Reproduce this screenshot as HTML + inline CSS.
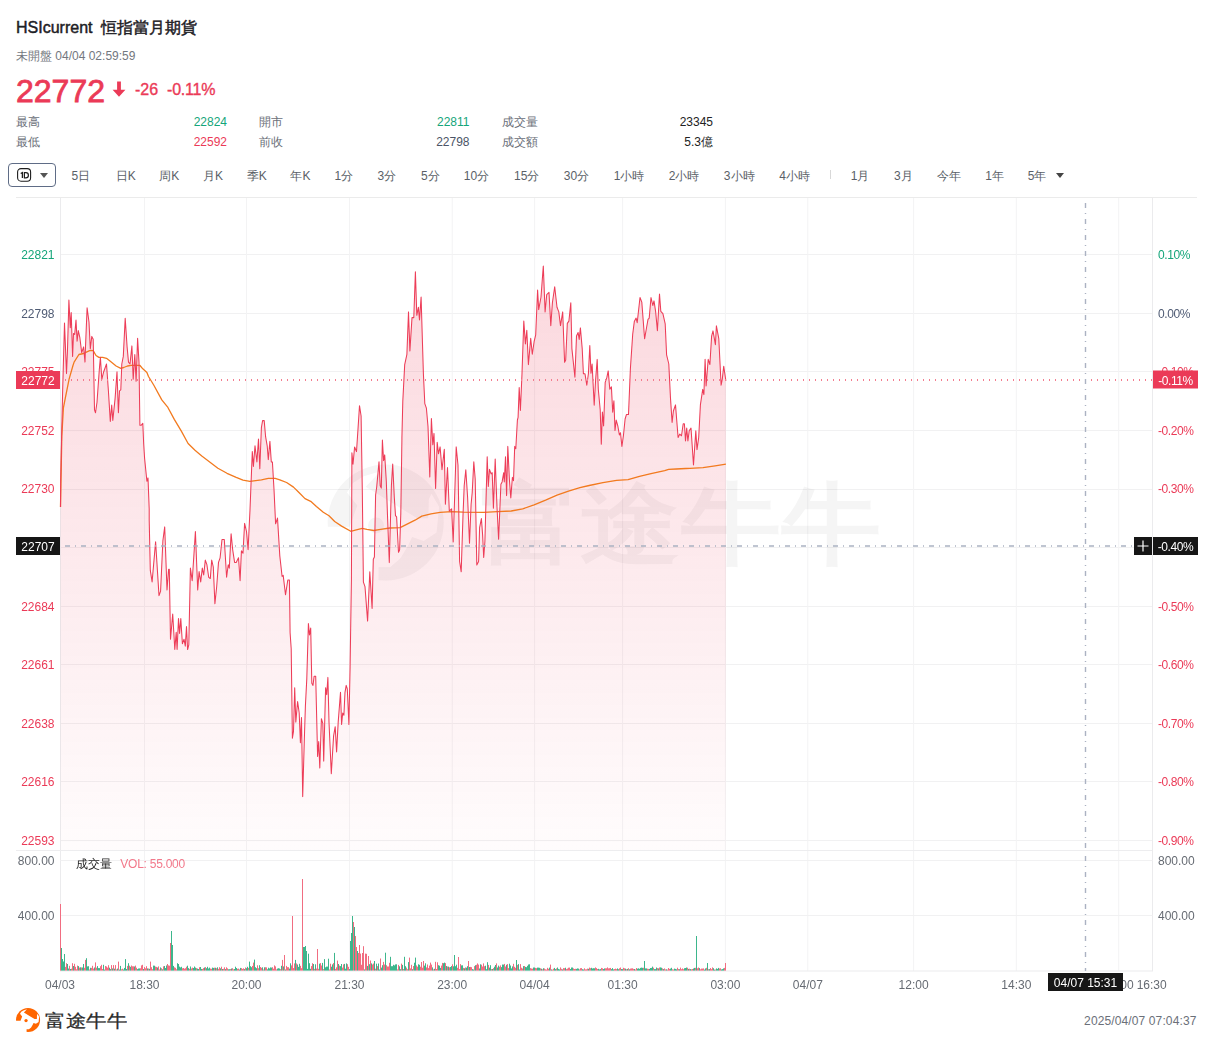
<!DOCTYPE html>
<html><head><meta charset="utf-8"><style>
html,body{margin:0;padding:0;background:#fff;}
body{width:1213px;height:1047px;position:relative;overflow:hidden;font-family:"Liberation Sans",sans-serif;}
.a{position:absolute;white-space:nowrap;line-height:1;}
</style></head><body>
<div class="a" style="left:16px;top:20px;font-size:16px;color:#1d2025;-webkit-text-stroke:0.45px #1d2025">HSIcurrent&nbsp;&nbsp;恒指當月期貨</div>
<div class="a" style="left:16px;top:50px;font-size:12px;color:#73777e">未開盤 04/04 02:59:59</div>
<div class="a" style="left:16px;top:75px;font-size:32px;color:#eb3a57;-webkit-text-stroke:0.8px #eb3a57">22772</div>
<svg class="a" style="left:112px;top:81px" width="15" height="17"><path d="M5.1,0.4 H8.9 V8.8 H13.4 L7,15.8 L0.6,8.8 H5.1 Z" fill="#eb3a57"/></svg>
<div class="a" style="left:135px;top:82px;font-size:16px;color:#eb3a57;-webkit-text-stroke:0.35px #eb3a57">-26</div>
<div class="a" style="left:167px;top:82px;font-size:16px;color:#eb3a57;letter-spacing:-0.2px;-webkit-text-stroke:0.35px #eb3a57">-0.11%</div>
<div class="a" style="left:16px;top:116px;font-size:12px;color:#6b7079">最高</div>
<div class="a" style="right:986px;top:116px;font-size:12px;color:#14a57a">22824</div>
<div class="a" style="left:259px;top:116px;font-size:12px;color:#6b7079">開市</div>
<div class="a" style="right:743.5px;top:116px;font-size:12px;color:#14a57a">22811</div>
<div class="a" style="left:501.5px;top:116px;font-size:12px;color:#6b7079">成交量</div>
<div class="a" style="right:500px;top:116px;font-size:12px;color:#222">23345</div>
<div class="a" style="left:16px;top:136px;font-size:12px;color:#6b7079">最低</div>
<div class="a" style="right:986px;top:136px;font-size:12px;color:#eb3a57">22592</div>
<div class="a" style="left:259px;top:136px;font-size:12px;color:#6b7079">前收</div>
<div class="a" style="right:743.5px;top:136px;font-size:12px;color:#4b5466">22798</div>
<div class="a" style="left:501.5px;top:136px;font-size:12px;color:#6b7079">成交額</div>
<div class="a" style="right:500px;top:136px;font-size:12px;color:#222">5.3億</div>
<div class="a" style="left:8px;top:163px;width:46px;height:22px;border:1px solid #5f6c86;border-radius:4px;"></div>
<svg class="a" style="left:16px;top:167px" width="17" height="17"><rect x="1.6" y="1.6" width="13" height="12.6" rx="3.4" fill="none" stroke="#1e1e1e" stroke-width="1.1"/><path d="M4.7,6.5 L6.4,5.6 V10.9" fill="none" stroke="#1e1e1e" stroke-width="1.3"/><path d="M8.4,5.6 H9.9 Q12.4,5.6 12.4,8.25 Q12.4,10.9 9.9,10.9 H8.4 Z" fill="none" stroke="#1e1e1e" stroke-width="1.2"/></svg>
<svg class="a" style="left:40px;top:173px" width="9" height="6"><path d="M0,0 H8 L4,5 Z" fill="#555"/></svg>
<div class="a" style="left:40.8px;width:80px;text-align:center;top:169.5px;font-size:12px;color:#5a5f67">5日</div>
<div class="a" style="left:85.7px;width:80px;text-align:center;top:169.5px;font-size:12px;color:#5a5f67">日K</div>
<div class="a" style="left:129.3px;width:80px;text-align:center;top:169.5px;font-size:12px;color:#5a5f67">周K</div>
<div class="a" style="left:173.1px;width:80px;text-align:center;top:169.5px;font-size:12px;color:#5a5f67">月K</div>
<div class="a" style="left:216.7px;width:80px;text-align:center;top:169.5px;font-size:12px;color:#5a5f67">季K</div>
<div class="a" style="left:260.5px;width:80px;text-align:center;top:169.5px;font-size:12px;color:#5a5f67">年K</div>
<div class="a" style="left:303.9px;width:80px;text-align:center;top:169.5px;font-size:12px;color:#5a5f67">1分</div>
<div class="a" style="left:346.9px;width:80px;text-align:center;top:169.5px;font-size:12px;color:#5a5f67">3分</div>
<div class="a" style="left:390.3px;width:80px;text-align:center;top:169.5px;font-size:12px;color:#5a5f67">5分</div>
<div class="a" style="left:436.5px;width:80px;text-align:center;top:169.5px;font-size:12px;color:#5a5f67">10分</div>
<div class="a" style="left:486.70000000000005px;width:80px;text-align:center;top:169.5px;font-size:12px;color:#5a5f67">15分</div>
<div class="a" style="left:536.5px;width:80px;text-align:center;top:169.5px;font-size:12px;color:#5a5f67">30分</div>
<div class="a" style="left:589px;width:80px;text-align:center;top:169.5px;font-size:12px;color:#5a5f67">1小時</div>
<div class="a" style="left:644.1px;width:80px;text-align:center;top:169.5px;font-size:12px;color:#5a5f67">2小時</div>
<div class="a" style="left:699.2px;width:80px;text-align:center;top:169.5px;font-size:12px;color:#5a5f67">3小時</div>
<div class="a" style="left:754.5px;width:80px;text-align:center;top:169.5px;font-size:12px;color:#5a5f67">4小時</div>
<div class="a" style="left:820px;width:80px;text-align:center;top:169.5px;font-size:12px;color:#5a5f67">1月</div>
<div class="a" style="left:863.4px;width:80px;text-align:center;top:169.5px;font-size:12px;color:#5a5f67">3月</div>
<div class="a" style="left:908.5px;width:80px;text-align:center;top:169.5px;font-size:12px;color:#5a5f67">今年</div>
<div class="a" style="left:954.6px;width:80px;text-align:center;top:169.5px;font-size:12px;color:#5a5f67">1年</div>
<div class="a" style="left:997px;width:80px;text-align:center;top:169.5px;font-size:12px;color:#5a5f67">5年</div>
<div class="a" style="left:830px;top:170px;width:1px;height:9px;background:#d8d8d8"></div>
<svg class="a" style="left:1056px;top:173px" width="9" height="6"><path d="M0,0 H8 L4,5 Z" fill="#444"/></svg>
<svg width="1213" height="1047" style="position:absolute;left:0;top:0">
<defs><linearGradient id="fg" x1="0" y1="265" x2="0" y2="850" gradientUnits="userSpaceOnUse"><stop offset="0" stop-color="#eb3a57" stop-opacity="0.2"/><stop offset="1" stop-color="#eb3a57" stop-opacity="0.015"/></linearGradient></defs>
<rect x="16" y="197" width="1181" height="1" fill="#ebebeb"/>
<rect x="60.5" y="254" width="1092" height="1" fill="#f1f1f2"/>
<rect x="60.5" y="313" width="1092" height="1" fill="#f1f1f2"/>
<rect x="60.5" y="371" width="1092" height="1" fill="#f1f1f2"/>
<rect x="60.5" y="430" width="1092" height="1" fill="#f1f1f2"/>
<rect x="60.5" y="489" width="1092" height="1" fill="#f1f1f2"/>
<rect x="60.5" y="547" width="1092" height="1" fill="#f1f1f2"/>
<rect x="60.5" y="606" width="1092" height="1" fill="#f1f1f2"/>
<rect x="60.5" y="664" width="1092" height="1" fill="#f1f1f2"/>
<rect x="60.5" y="723" width="1092" height="1" fill="#f1f1f2"/>
<rect x="60.5" y="781" width="1092" height="1" fill="#f1f1f2"/>
<rect x="60.5" y="840" width="1092" height="1" fill="#f1f1f2"/>
<rect x="144.0" y="198" width="1" height="773" fill="#f3f3f4"/>
<rect x="246.0" y="198" width="1" height="773" fill="#f3f3f4"/>
<rect x="349.0" y="198" width="1" height="773" fill="#f3f3f4"/>
<rect x="451.7" y="198" width="1" height="773" fill="#f3f3f4"/>
<rect x="534.1" y="198" width="1" height="773" fill="#f3f3f4"/>
<rect x="622.1" y="198" width="1" height="773" fill="#f3f3f4"/>
<rect x="724.9" y="198" width="1" height="773" fill="#f3f3f4"/>
<rect x="807.3" y="198" width="1" height="773" fill="#f3f3f4"/>
<rect x="913.1" y="198" width="1" height="773" fill="#f3f3f4"/>
<rect x="1015.8" y="198" width="1" height="773" fill="#f3f3f4"/>
<rect x="1118.2" y="198" width="1" height="773" fill="#f3f3f4"/>
<rect x="60" y="198" width="1" height="773" fill="#ebebed"/>
<rect x="1152" y="198" width="1" height="773" fill="#ebebed"/>
<rect x="16" y="850" width="1136" height="1" fill="#ededef"/>
<rect x="60.5" y="860" width="1092" height="1" fill="#f1f1f2"/>
<rect x="60.5" y="915" width="1092" height="1" fill="#f1f1f2"/>
<rect x="60" y="970.5" width="1093" height="1" fill="#ebebed"/>
<mask id="wm"><rect x="0" y="0" width="1213" height="1047" fill="#000"/><g transform="translate(318,455.2) scale(0.1289)"><circle cx="525" cy="522" r="450" fill="#fff"/><path d="M485,125 L350,165 L270,215 L225,290 L305,390 L265,500 L245,555 L0,555 L0,1047 L470,1047 L470,870 L560,870 L640,800 L700,700 L730,635 L820,665 L920,600 L940,400 L880,300 L860,340 L855,490 L770,490 L370,245 Z" fill="#000"/><circle cx="450" cy="545" r="62" fill="#fff"/></g></mask>
<g opacity="0.04"><rect x="300" y="440" width="160" height="160" fill="#000" mask="url(#wm)"/><text x="480" y="560" transform="translate(0,523.5) scale(1,0.89) translate(0,-524.5)" font-family="Liberation Sans, sans-serif" font-size="100" fill="#000" font-weight="bold">富途牛牛</text></g>
<path d="M60.5,507.0 L60.7,480.0 L61.7,432.8 L62.6,392.7 L64.5,323.0 L66.5,373.6 L67.4,352.6 L68.9,300.1 L70.3,327.8 L71.2,312.5 L72.6,356.4 L73.5,333.5 L74.7,334.4 L76.0,320.1 L77.1,341.1 L78.3,330.6 L79.8,337.3 L81.7,352.6 L83.6,346.9 L85.0,362.1 L85.5,346.9 L87.1,307.7 L89.0,322.0 L90.3,348.8 L91.8,336.4 L93.2,339.2 L94.5,409.9 L95.5,412.8 L97.0,402.3 L99.3,369.8 L100.4,357.4 L101.8,379.3 L103.7,371.7 L106.5,364.0 L108.4,390.8 L110.3,421.4 L111.7,405.1 L112.8,420.4 L115.1,398.4 L117.0,371.7 L118.4,412.8 L119.5,390.8 L120.8,389.8 L121.8,364.0 L123.3,356.4 L125.2,318.2 L127.1,346.9 L128.5,362.1 L130.0,364.0 L131.9,345.9 L133.2,379.3 L134.8,354.5 L136.1,381.2 L137.6,338.3 L139.0,362.1 L139.9,425.2 L141.3,425.2 L142.8,423.3 L143.7,444.3 L144.6,458.4 L146.9,481.3 L148.0,477.9 L149.2,508.8 L149.2,520.0 L150.3,570.4 L152.1,581.9 L155.6,541.8 L159.0,595.6 L160.6,591.1 L162.9,540.6 L164.7,526.9 L167.0,589.9 L168.6,569.3 L169.3,569.3 L170.5,639.2 L172.7,614.0 L174.8,649.5 L176.2,632.3 L177.1,649.5 L178.5,618.6 L179.6,633.5 L180.8,618.6 L182.4,643.8 L184.0,639.2 L185.3,646.1 L186.5,626.6 L187.6,649.5 L188.8,644.9 L190.4,568.1 L192.2,580.7 L193.8,556.7 L195.4,531.5 L197.7,589.9 L199.1,571.6 L200.7,581.9 L202.3,568.1 L203.7,575.0 L205.3,560.1 L206.9,564.7 L208.7,577.3 L210.3,578.5 L211.7,560.1 L213.3,567.0 L214.9,603.7 L216.7,586.5 L218.5,562.4 L220.1,557.8 L222.0,539.5 L224.3,539.5 L226.6,577.3 L228.2,564.7 L229.3,568.1 L231.1,533.8 L232.7,549.8 L234.6,562.4 L236.2,562.4 L238.5,557.8 L240.1,580.7 L241.4,550.9 L243.0,553.2 L244.6,523.4 L246.5,531.5 L248.1,549.8 L249.5,520.0 L250.0,510.0 L252.3,451.6 L253.4,466.5 L255.0,445.8 L256.9,461.9 L258.5,439.0 L259.8,468.8 L261.4,427.5 L262.6,420.6 L264.2,420.6 L265.6,436.7 L267.2,445.8 L268.3,459.6 L269.9,441.3 L271.3,461.9 L272.4,461.9 L274.0,489.4 L275.6,523.8 L277.5,518.1 L279.8,555.9 L282.1,576.5 L283.2,575.4 L285.5,594.8 L287.8,580.0 L289.4,580.0 L290.1,632.7 L291.2,648.8 L292.4,738.2 L293.5,731.3 L294.7,687.7 L295.8,722.1 L297.6,701.5 L299.2,713.0 L300.4,742.8 L301.5,717.5 L302.7,796.6 L304.3,740.5 L305.4,706.1 L306.8,678.6 L308.4,623.6 L309.5,635.0 L310.7,628.1 L311.8,683.2 L313.0,685.4 L314.1,676.3 L315.7,676.3 L317.6,756.5 L318.7,741.6 L319.8,768.0 L321.4,718.7 L322.8,723.3 L323.7,761.1 L325.6,687.7 L326.7,694.6 L327.9,677.4 L329.0,722.1 L331.3,773.7 L333.6,735.9 L335.2,726.7 L336.6,751.9 L338.2,722.1 L340.5,692.3 L341.6,724.4 L342.7,713.0 L343.9,715.2 L345.0,692.3 L346.2,685.4 L347.3,688.9 L348.9,724.4 L350.1,667.1 L351.4,580.0 L351.9,452.7 L353.0,464.2 L354.6,447.0 L356.5,451.6 L358.1,427.5 L359.5,405.7 L361.1,416.0 L362.3,490.4 L363.4,582.1 L365.0,586.7 L367.6,621.1 L369.8,571.8 L372.1,608.5 L373.3,559.2 L374.4,556.9 L375.6,495.0 L376.7,487.0 L379.0,461.8 L380.2,485.8 L381.3,488.1 L382.4,440.0 L383.6,460.6 L384.7,454.9 L386.3,481.3 L387.5,515.6 L389.3,562.6 L391.4,485.8 L392.7,464.1 L394.3,497.3 L395.5,515.6 L396.6,516.8 L398.5,552.3 L399.6,550.0 L400.8,513.4 L401.9,440.0 L401.9,438.0 L402.8,401.3 L404.7,364.6 L406.9,354.3 L408.5,311.9 L409.9,350.9 L412.0,317.6 L413.8,317.6 L415.4,271.8 L416.8,315.3 L418.4,307.3 L419.5,319.9 L421.1,297.0 L422.5,344.0 L423.4,373.8 L424.8,403.6 L426.4,408.2 L428.0,426.5 L429.8,476.9 L431.4,418.5 L432.8,444.8 L434.0,433.4 L435.6,488.4 L437.2,442.3 L438.5,453.8 L440.1,446.9 L442.0,469.8 L444.3,449.2 L445.4,504.2 L447.5,467.5 L449.3,511.1 L451.6,508.8 L453.2,542.0 L455.0,485.8 L456.2,446.9 L458.0,465.2 L459.6,561.5 L461.2,571.8 L463.0,515.6 L464.2,485.8 L465.8,469.8 L467.6,497.3 L469.5,543.2 L471.1,504.2 L472.2,492.7 L473.8,461.8 L475.2,479.0 L476.8,564.9 L478.6,561.5 L479.6,527.7 L481.4,518.6 L482.6,534.6 L483.7,557.5 L484.9,541.5 L487.2,456.7 L488.3,486.5 L489.5,469.3 L491.1,473.9 L492.2,472.7 L493.4,508.3 L495.2,459.0 L497.0,507.1 L498.6,539.2 L500.9,484.2 L502.1,481.9 L503.7,472.7 L504.3,481.9 L505.5,456.7 L506.6,495.6 L507.8,446.4 L509.4,479.6 L510.8,497.9 L512.4,477.3 L513.5,480.7 L514.7,446.4 L515.8,448.7 L517.4,420.0 L518.1,417.3 L519.2,387.5 L520.4,410.5 L522.0,373.8 L523.8,321.1 L525.4,344.0 L526.8,330.2 L528.4,364.6 L530.7,338.3 L532.3,354.3 L534.1,341.7 L535.7,334.8 L537.6,290.1 L538.7,309.6 L541.0,297.0 L543.3,266.0 L545.1,311.9 L546.7,294.7 L549.0,292.4 L550.8,325.6 L552.4,302.7 L554.7,286.7 L557.0,307.3 L558.8,311.9 L560.5,325.6 L562.7,311.9 L564.6,362.3 L565.7,360.0 L567.3,323.4 L568.9,321.1 L570.8,302.7 L571.9,348.6 L574.9,377.2 L576.5,336.0 L578.1,332.5 L579.2,339.4 L580.4,327.9 L582.2,348.6 L583.4,373.8 L585.0,373.8 L586.8,385.2 L588.4,373.8 L589.8,345.6 L591.0,373.2 L592.1,364.0 L594.2,405.2 L595.6,380.0 L597.2,359.4 L598.3,389.2 L600.2,409.8 L601.3,444.2 L602.4,412.1 L603.6,425.9 L605.2,382.3 L606.8,377.7 L608.2,370.9 L609.8,389.2 L611.4,386.9 L612.7,412.1 L613.9,400.7 L615.0,430.5 L616.2,420.1 L617.8,425.9 L619.4,435.0 L620.5,432.8 L621.9,446.5 L623.5,435.0 L625.1,419.0 L626.5,414.4 L628.5,414.4 L630.4,368.6 L632.7,334.2 L634.3,321.6 L636.1,318.1 L637.2,322.7 L640.0,297.5 L641.8,302.1 L644.6,338.8 L646.4,328.5 L648.0,319.3 L649.2,318.1 L651.0,297.5 L652.8,305.5 L654.0,300.9 L655.6,311.3 L657.4,330.7 L659.5,294.1 L660.8,311.3 L662.9,313.6 L665.2,323.9 L666.6,354.8 L668.8,364.0 L670.5,398.4 L672.1,422.4 L673.4,411.0 L675.5,404.9 L678.1,437.5 L679.8,434.1 L681.5,435.8 L683.2,423.8 L684.4,423.8 L685.5,441.0 L686.7,428.1 L687.9,441.0 L689.2,430.7 L691.0,428.1 L693.5,465.0 L695.8,430.7 L697.0,449.6 L698.7,437.5 L700.4,404.9 L702.7,389.4 L703.9,394.6 L705.1,359.3 L706.1,386.0 L708.2,359.3 L709.9,364.5 L711.6,336.1 L713.0,330.9 L715.4,344.7 L716.4,325.8 L718.8,338.7 L721.1,385.1 L722.3,379.1 L723.7,366.2 L725.9,380.8 L725.9,850 L60.5,850 Z" fill="url(#fg)"/>
<path d="M60.5,507.1 L61.8,436.4 L63.4,407.8 L65.3,398.2 L69.1,379.1 L72.9,365.7 L74.1,362.1 L78.9,354.5 L83.6,353.5 L87.4,351.6 L90.3,350.3 L93.2,350.7 L96.0,355.5 L98.9,357.4 L102.7,357.4 L106.5,358.3 L110.3,361.2 L116.1,366.0 L120.8,368.3 L123.7,367.5 L127.5,366.0 L131.3,365.4 L139.0,365.4 L140.0,365.5 L142.8,368.8 L146.9,372.4 L148.5,376.5 L153.7,385.0 L161.8,399.9 L167.5,406.8 L174.3,419.4 L181.2,430.9 L188.1,443.5 L195.0,450.3 L201.8,456.1 L211.0,463.0 L217.9,468.2 L227.0,473.3 L236.2,477.4 L243.0,480.1 L249.9,481.3 L250.0,481.4 L261.4,479.8 L268.3,478.4 L275.2,478.4 L279.8,479.8 L286.6,482.5 L293.5,487.1 L299.2,492.8 L305.0,498.6 L310.7,501.3 L316.4,506.6 L323.3,512.3 L329.0,515.8 L334.7,521.5 L341.6,526.1 L350.8,531.3 L355.3,530.2 L362.2,528.4 L366.9,529.4 L373.7,530.5 L380.6,529.4 L389.8,528.0 L400.1,527.6 L408.1,523.7 L415.0,520.2 L421.8,516.1 L431.0,513.8 L440.1,512.4 L451.6,511.7 L463.0,512.2 L483.7,512.4 L497.5,511.7 L511.2,511.0 L522.7,508.9 L534.1,504.8 L545.6,500.2 L557.0,495.2 L568.5,491.1 L579.9,487.6 L589.2,485.5 L602.9,482.7 L616.6,480.4 L628.1,479.7 L639.5,476.3 L651.0,473.6 L664.7,470.6 L668.6,469.3 L676.2,469.0 L685.8,468.5 L689.9,468.3 L703.0,467.6 L715.1,465.9 L725.9,464.2" fill="none" stroke="#f27a1f" stroke-width="1.3" stroke-linejoin="round"/>
<path d="M60.5,507.0 L60.7,480.0 L61.7,432.8 L62.6,392.7 L64.5,323.0 L66.5,373.6 L67.4,352.6 L68.9,300.1 L70.3,327.8 L71.2,312.5 L72.6,356.4 L73.5,333.5 L74.7,334.4 L76.0,320.1 L77.1,341.1 L78.3,330.6 L79.8,337.3 L81.7,352.6 L83.6,346.9 L85.0,362.1 L85.5,346.9 L87.1,307.7 L89.0,322.0 L90.3,348.8 L91.8,336.4 L93.2,339.2 L94.5,409.9 L95.5,412.8 L97.0,402.3 L99.3,369.8 L100.4,357.4 L101.8,379.3 L103.7,371.7 L106.5,364.0 L108.4,390.8 L110.3,421.4 L111.7,405.1 L112.8,420.4 L115.1,398.4 L117.0,371.7 L118.4,412.8 L119.5,390.8 L120.8,389.8 L121.8,364.0 L123.3,356.4 L125.2,318.2 L127.1,346.9 L128.5,362.1 L130.0,364.0 L131.9,345.9 L133.2,379.3 L134.8,354.5 L136.1,381.2 L137.6,338.3 L139.0,362.1 L139.9,425.2 L141.3,425.2 L142.8,423.3 L143.7,444.3 L144.6,458.4 L146.9,481.3 L148.0,477.9 L149.2,508.8 L149.2,520.0 L150.3,570.4 L152.1,581.9 L155.6,541.8 L159.0,595.6 L160.6,591.1 L162.9,540.6 L164.7,526.9 L167.0,589.9 L168.6,569.3 L169.3,569.3 L170.5,639.2 L172.7,614.0 L174.8,649.5 L176.2,632.3 L177.1,649.5 L178.5,618.6 L179.6,633.5 L180.8,618.6 L182.4,643.8 L184.0,639.2 L185.3,646.1 L186.5,626.6 L187.6,649.5 L188.8,644.9 L190.4,568.1 L192.2,580.7 L193.8,556.7 L195.4,531.5 L197.7,589.9 L199.1,571.6 L200.7,581.9 L202.3,568.1 L203.7,575.0 L205.3,560.1 L206.9,564.7 L208.7,577.3 L210.3,578.5 L211.7,560.1 L213.3,567.0 L214.9,603.7 L216.7,586.5 L218.5,562.4 L220.1,557.8 L222.0,539.5 L224.3,539.5 L226.6,577.3 L228.2,564.7 L229.3,568.1 L231.1,533.8 L232.7,549.8 L234.6,562.4 L236.2,562.4 L238.5,557.8 L240.1,580.7 L241.4,550.9 L243.0,553.2 L244.6,523.4 L246.5,531.5 L248.1,549.8 L249.5,520.0 L250.0,510.0 L252.3,451.6 L253.4,466.5 L255.0,445.8 L256.9,461.9 L258.5,439.0 L259.8,468.8 L261.4,427.5 L262.6,420.6 L264.2,420.6 L265.6,436.7 L267.2,445.8 L268.3,459.6 L269.9,441.3 L271.3,461.9 L272.4,461.9 L274.0,489.4 L275.6,523.8 L277.5,518.1 L279.8,555.9 L282.1,576.5 L283.2,575.4 L285.5,594.8 L287.8,580.0 L289.4,580.0 L290.1,632.7 L291.2,648.8 L292.4,738.2 L293.5,731.3 L294.7,687.7 L295.8,722.1 L297.6,701.5 L299.2,713.0 L300.4,742.8 L301.5,717.5 L302.7,796.6 L304.3,740.5 L305.4,706.1 L306.8,678.6 L308.4,623.6 L309.5,635.0 L310.7,628.1 L311.8,683.2 L313.0,685.4 L314.1,676.3 L315.7,676.3 L317.6,756.5 L318.7,741.6 L319.8,768.0 L321.4,718.7 L322.8,723.3 L323.7,761.1 L325.6,687.7 L326.7,694.6 L327.9,677.4 L329.0,722.1 L331.3,773.7 L333.6,735.9 L335.2,726.7 L336.6,751.9 L338.2,722.1 L340.5,692.3 L341.6,724.4 L342.7,713.0 L343.9,715.2 L345.0,692.3 L346.2,685.4 L347.3,688.9 L348.9,724.4 L350.1,667.1 L351.4,580.0 L351.9,452.7 L353.0,464.2 L354.6,447.0 L356.5,451.6 L358.1,427.5 L359.5,405.7 L361.1,416.0 L362.3,490.4 L363.4,582.1 L365.0,586.7 L367.6,621.1 L369.8,571.8 L372.1,608.5 L373.3,559.2 L374.4,556.9 L375.6,495.0 L376.7,487.0 L379.0,461.8 L380.2,485.8 L381.3,488.1 L382.4,440.0 L383.6,460.6 L384.7,454.9 L386.3,481.3 L387.5,515.6 L389.3,562.6 L391.4,485.8 L392.7,464.1 L394.3,497.3 L395.5,515.6 L396.6,516.8 L398.5,552.3 L399.6,550.0 L400.8,513.4 L401.9,440.0 L401.9,438.0 L402.8,401.3 L404.7,364.6 L406.9,354.3 L408.5,311.9 L409.9,350.9 L412.0,317.6 L413.8,317.6 L415.4,271.8 L416.8,315.3 L418.4,307.3 L419.5,319.9 L421.1,297.0 L422.5,344.0 L423.4,373.8 L424.8,403.6 L426.4,408.2 L428.0,426.5 L429.8,476.9 L431.4,418.5 L432.8,444.8 L434.0,433.4 L435.6,488.4 L437.2,442.3 L438.5,453.8 L440.1,446.9 L442.0,469.8 L444.3,449.2 L445.4,504.2 L447.5,467.5 L449.3,511.1 L451.6,508.8 L453.2,542.0 L455.0,485.8 L456.2,446.9 L458.0,465.2 L459.6,561.5 L461.2,571.8 L463.0,515.6 L464.2,485.8 L465.8,469.8 L467.6,497.3 L469.5,543.2 L471.1,504.2 L472.2,492.7 L473.8,461.8 L475.2,479.0 L476.8,564.9 L478.6,561.5 L479.6,527.7 L481.4,518.6 L482.6,534.6 L483.7,557.5 L484.9,541.5 L487.2,456.7 L488.3,486.5 L489.5,469.3 L491.1,473.9 L492.2,472.7 L493.4,508.3 L495.2,459.0 L497.0,507.1 L498.6,539.2 L500.9,484.2 L502.1,481.9 L503.7,472.7 L504.3,481.9 L505.5,456.7 L506.6,495.6 L507.8,446.4 L509.4,479.6 L510.8,497.9 L512.4,477.3 L513.5,480.7 L514.7,446.4 L515.8,448.7 L517.4,420.0 L518.1,417.3 L519.2,387.5 L520.4,410.5 L522.0,373.8 L523.8,321.1 L525.4,344.0 L526.8,330.2 L528.4,364.6 L530.7,338.3 L532.3,354.3 L534.1,341.7 L535.7,334.8 L537.6,290.1 L538.7,309.6 L541.0,297.0 L543.3,266.0 L545.1,311.9 L546.7,294.7 L549.0,292.4 L550.8,325.6 L552.4,302.7 L554.7,286.7 L557.0,307.3 L558.8,311.9 L560.5,325.6 L562.7,311.9 L564.6,362.3 L565.7,360.0 L567.3,323.4 L568.9,321.1 L570.8,302.7 L571.9,348.6 L574.9,377.2 L576.5,336.0 L578.1,332.5 L579.2,339.4 L580.4,327.9 L582.2,348.6 L583.4,373.8 L585.0,373.8 L586.8,385.2 L588.4,373.8 L589.8,345.6 L591.0,373.2 L592.1,364.0 L594.2,405.2 L595.6,380.0 L597.2,359.4 L598.3,389.2 L600.2,409.8 L601.3,444.2 L602.4,412.1 L603.6,425.9 L605.2,382.3 L606.8,377.7 L608.2,370.9 L609.8,389.2 L611.4,386.9 L612.7,412.1 L613.9,400.7 L615.0,430.5 L616.2,420.1 L617.8,425.9 L619.4,435.0 L620.5,432.8 L621.9,446.5 L623.5,435.0 L625.1,419.0 L626.5,414.4 L628.5,414.4 L630.4,368.6 L632.7,334.2 L634.3,321.6 L636.1,318.1 L637.2,322.7 L640.0,297.5 L641.8,302.1 L644.6,338.8 L646.4,328.5 L648.0,319.3 L649.2,318.1 L651.0,297.5 L652.8,305.5 L654.0,300.9 L655.6,311.3 L657.4,330.7 L659.5,294.1 L660.8,311.3 L662.9,313.6 L665.2,323.9 L666.6,354.8 L668.8,364.0 L670.5,398.4 L672.1,422.4 L673.4,411.0 L675.5,404.9 L678.1,437.5 L679.8,434.1 L681.5,435.8 L683.2,423.8 L684.4,423.8 L685.5,441.0 L686.7,428.1 L687.9,441.0 L689.2,430.7 L691.0,428.1 L693.5,465.0 L695.8,430.7 L697.0,449.6 L698.7,437.5 L700.4,404.9 L702.7,389.4 L703.9,394.6 L705.1,359.3 L706.1,386.0 L708.2,359.3 L709.9,364.5 L711.6,336.1 L713.0,330.9 L715.4,344.7 L716.4,325.8 L718.8,338.7 L721.1,385.1 L722.3,379.1 L723.7,366.2 L725.9,380.8" fill="none" stroke="#ed3d58" stroke-width="1.05" stroke-linejoin="round"/>
<line x1="60" y1="380" x2="1152" y2="380" stroke="#f37d8f" stroke-width="2" stroke-dasharray="1,5" stroke-dashoffset="1"/>
<line x1="60" y1="546" x2="1134" y2="546" stroke="#abb2c2" stroke-width="1.6" stroke-dasharray="5,5,1,5" stroke-dashoffset="11"/>
<line x1="1085.5" y1="198" x2="1085.5" y2="850" stroke="#abb2c2" stroke-width="1.4" stroke-dasharray="5,5,1,5" stroke-dashoffset="11"/>
<line x1="1085.5" y1="851" x2="1085.5" y2="971" stroke="#abb2c2" stroke-width="1.4" stroke-dasharray="5,5,1,5" stroke-dashoffset="11"/>
<rect x="60" y="904.0" width="1" height="66.6" fill="#f16d81"/>
<rect x="61" y="948.0" width="1" height="22.6" fill="#3db68c"/>
<rect x="62" y="959.0" width="1" height="11.6" fill="#3db68c"/>
<rect x="63" y="961.5" width="1" height="9.1" fill="#3db68c"/>
<rect x="64" y="954.0" width="1" height="16.6" fill="#3db68c"/>
<rect x="65" y="966.9" width="1" height="3.7" fill="#f16d81"/>
<rect x="66" y="963.2" width="1" height="7.4" fill="#f16d81"/>
<rect x="67" y="964.0" width="1" height="6.6" fill="#3db68c"/>
<rect x="68" y="968.5" width="1" height="2.1" fill="#3db68c"/>
<rect x="69" y="965.8" width="1" height="4.8" fill="#f16d81"/>
<rect x="70" y="969.0" width="1" height="1.6" fill="#3db68c"/>
<rect x="71" y="968.7" width="1" height="1.9" fill="#f16d81"/>
<rect x="72" y="963.2" width="1" height="7.4" fill="#f16d81"/>
<rect x="73" y="966.0" width="1" height="4.6" fill="#3db68c"/>
<rect x="74" y="963.8" width="1" height="6.8" fill="#f16d81"/>
<rect x="75" y="966.8" width="1" height="3.8" fill="#f16d81"/>
<rect x="76" y="969.3" width="1" height="1.3" fill="#f16d81"/>
<rect x="77" y="965.6" width="1" height="5.0" fill="#f16d81"/>
<rect x="78" y="966.1" width="1" height="4.5" fill="#3db68c"/>
<rect x="79" y="967.6" width="1" height="3.0" fill="#f16d81"/>
<rect x="80" y="967.3" width="1" height="3.3" fill="#3db68c"/>
<rect x="81" y="967.4" width="1" height="3.2" fill="#f16d81"/>
<rect x="82" y="967.5" width="1" height="3.1" fill="#3db68c"/>
<rect x="83" y="964.0" width="1" height="6.6" fill="#3db68c"/>
<rect x="84" y="967.8" width="1" height="2.8" fill="#f16d81"/>
<rect x="85" y="959.9" width="1" height="10.7" fill="#f16d81"/>
<rect x="86" y="958.2" width="1" height="12.4" fill="#3db68c"/>
<rect x="87" y="966.4" width="1" height="4.2" fill="#3db68c"/>
<rect x="88" y="966.2" width="1" height="4.4" fill="#3db68c"/>
<rect x="89" y="969.5" width="1" height="1.1" fill="#f16d81"/>
<rect x="90" y="967.8" width="1" height="2.8" fill="#3db68c"/>
<rect x="91" y="967.9" width="1" height="2.7" fill="#f16d81"/>
<rect x="92" y="965.8" width="1" height="4.8" fill="#f16d81"/>
<rect x="93" y="968.6" width="1" height="2.0" fill="#f16d81"/>
<rect x="94" y="967.5" width="1" height="3.1" fill="#3db68c"/>
<rect x="95" y="962.4" width="1" height="8.2" fill="#f16d81"/>
<rect x="96" y="967.7" width="1" height="2.9" fill="#f16d81"/>
<rect x="97" y="966.1" width="1" height="4.5" fill="#3db68c"/>
<rect x="98" y="968.1" width="1" height="2.5" fill="#3db68c"/>
<rect x="99" y="968.1" width="1" height="2.5" fill="#3db68c"/>
<rect x="100" y="966.2" width="1" height="4.4" fill="#f16d81"/>
<rect x="101" y="964.8" width="1" height="5.8" fill="#f16d81"/>
<rect x="102" y="969.0" width="1" height="1.6" fill="#f16d81"/>
<rect x="103" y="964.8" width="1" height="5.8" fill="#3db68c"/>
<rect x="104" y="969.6" width="1" height="1.0" fill="#3db68c"/>
<rect x="105" y="966.0" width="1" height="4.6" fill="#f16d81"/>
<rect x="106" y="966.5" width="1" height="4.1" fill="#f16d81"/>
<rect x="107" y="967.6" width="1" height="3.0" fill="#f16d81"/>
<rect x="108" y="965.2" width="1" height="5.4" fill="#f16d81"/>
<rect x="109" y="967.7" width="1" height="2.9" fill="#3db68c"/>
<rect x="110" y="969.1" width="1" height="1.5" fill="#3db68c"/>
<rect x="111" y="965.1" width="1" height="5.5" fill="#f16d81"/>
<rect x="112" y="968.4" width="1" height="2.2" fill="#3db68c"/>
<rect x="113" y="965.1" width="1" height="5.5" fill="#f16d81"/>
<rect x="114" y="968.7" width="1" height="1.9" fill="#3db68c"/>
<rect x="115" y="965.1" width="1" height="5.5" fill="#f16d81"/>
<rect x="116" y="969.4" width="1" height="1.2" fill="#f16d81"/>
<rect x="117" y="968.6" width="1" height="2.0" fill="#3db68c"/>
<rect x="118" y="961.6" width="1" height="9.0" fill="#f16d81"/>
<rect x="119" y="969.6" width="1" height="1.0" fill="#3db68c"/>
<rect x="120" y="965.9" width="1" height="4.7" fill="#3db68c"/>
<rect x="121" y="969.3" width="1" height="1.3" fill="#f16d81"/>
<rect x="122" y="968.7" width="1" height="1.9" fill="#f16d81"/>
<rect x="123" y="969.5" width="1" height="1.1" fill="#3db68c"/>
<rect x="124" y="967.9" width="1" height="2.7" fill="#3db68c"/>
<rect x="125" y="959.1" width="1" height="11.5" fill="#3db68c"/>
<rect x="126" y="969.0" width="1" height="1.6" fill="#3db68c"/>
<rect x="127" y="965.9" width="1" height="4.7" fill="#f16d81"/>
<rect x="128" y="963.2" width="1" height="7.4" fill="#3db68c"/>
<rect x="129" y="965.7" width="1" height="4.9" fill="#f16d81"/>
<rect x="130" y="966.8" width="1" height="3.8" fill="#3db68c"/>
<rect x="131" y="965.5" width="1" height="5.1" fill="#f16d81"/>
<rect x="132" y="966.3" width="1" height="4.3" fill="#f16d81"/>
<rect x="133" y="966.3" width="1" height="4.3" fill="#f16d81"/>
<rect x="134" y="966.5" width="1" height="4.1" fill="#3db68c"/>
<rect x="135" y="965.6" width="1" height="5.0" fill="#f16d81"/>
<rect x="136" y="967.7" width="1" height="2.9" fill="#f16d81"/>
<rect x="137" y="969.1" width="1" height="1.5" fill="#3db68c"/>
<rect x="138" y="968.5" width="1" height="2.1" fill="#3db68c"/>
<rect x="139" y="968.4" width="1" height="2.2" fill="#3db68c"/>
<rect x="140" y="968.3" width="1" height="2.3" fill="#f16d81"/>
<rect x="141" y="965.4" width="1" height="5.2" fill="#f16d81"/>
<rect x="142" y="964.8" width="1" height="5.8" fill="#f16d81"/>
<rect x="143" y="969.0" width="1" height="1.6" fill="#3db68c"/>
<rect x="144" y="967.1" width="1" height="3.5" fill="#f16d81"/>
<rect x="145" y="968.3" width="1" height="2.3" fill="#f16d81"/>
<rect x="146" y="966.2" width="1" height="4.4" fill="#f16d81"/>
<rect x="147" y="968.4" width="1" height="2.2" fill="#3db68c"/>
<rect x="148" y="968.5" width="1" height="2.1" fill="#f16d81"/>
<rect x="149" y="968.8" width="1" height="1.8" fill="#3db68c"/>
<rect x="150" y="961.6" width="1" height="9.0" fill="#f16d81"/>
<rect x="151" y="967.2" width="1" height="3.4" fill="#f16d81"/>
<rect x="152" y="969.2" width="1" height="1.4" fill="#f16d81"/>
<rect x="153" y="965.6" width="1" height="5.0" fill="#3db68c"/>
<rect x="154" y="965.7" width="1" height="4.9" fill="#3db68c"/>
<rect x="155" y="966.6" width="1" height="4.0" fill="#f16d81"/>
<rect x="156" y="966.9" width="1" height="3.7" fill="#f16d81"/>
<rect x="157" y="967.5" width="1" height="3.1" fill="#3db68c"/>
<rect x="158" y="966.4" width="1" height="4.2" fill="#f16d81"/>
<rect x="159" y="969.5" width="1" height="1.1" fill="#f16d81"/>
<rect x="160" y="967.4" width="1" height="3.2" fill="#3db68c"/>
<rect x="161" y="968.2" width="1" height="2.4" fill="#f16d81"/>
<rect x="162" y="969.3" width="1" height="1.3" fill="#3db68c"/>
<rect x="163" y="966.3" width="1" height="4.3" fill="#f16d81"/>
<rect x="164" y="966.0" width="1" height="4.6" fill="#3db68c"/>
<rect x="165" y="968.0" width="1" height="2.6" fill="#3db68c"/>
<rect x="166" y="965.5" width="1" height="5.1" fill="#3db68c"/>
<rect x="167" y="964.0" width="1" height="6.6" fill="#f16d81"/>
<rect x="168" y="965.4" width="1" height="5.2" fill="#f16d81"/>
<rect x="169" y="965.7" width="1" height="4.9" fill="#f16d81"/>
<rect x="170" y="943.0" width="1" height="27.6" fill="#f16d81"/>
<rect x="171" y="931.0" width="1" height="39.6" fill="#3db68c"/>
<rect x="172" y="945.0" width="1" height="25.6" fill="#3db68c"/>
<rect x="173" y="965.9" width="1" height="4.7" fill="#3db68c"/>
<rect x="174" y="967.3" width="1" height="3.3" fill="#f16d81"/>
<rect x="175" y="967.8" width="1" height="2.8" fill="#f16d81"/>
<rect x="176" y="969.3" width="1" height="1.3" fill="#f16d81"/>
<rect x="177" y="963.2" width="1" height="7.4" fill="#3db68c"/>
<rect x="178" y="964.0" width="1" height="6.6" fill="#3db68c"/>
<rect x="179" y="966.6" width="1" height="4.0" fill="#3db68c"/>
<rect x="180" y="967.4" width="1" height="3.2" fill="#3db68c"/>
<rect x="181" y="966.8" width="1" height="3.8" fill="#3db68c"/>
<rect x="182" y="968.3" width="1" height="2.3" fill="#f16d81"/>
<rect x="183" y="968.0" width="1" height="2.6" fill="#f16d81"/>
<rect x="184" y="968.7" width="1" height="1.9" fill="#f16d81"/>
<rect x="185" y="968.2" width="1" height="2.4" fill="#f16d81"/>
<rect x="186" y="966.7" width="1" height="3.9" fill="#f16d81"/>
<rect x="187" y="965.7" width="1" height="4.9" fill="#3db68c"/>
<rect x="188" y="968.1" width="1" height="2.5" fill="#3db68c"/>
<rect x="189" y="968.8" width="1" height="1.8" fill="#f16d81"/>
<rect x="190" y="966.5" width="1" height="4.1" fill="#3db68c"/>
<rect x="191" y="968.5" width="1" height="2.1" fill="#f16d81"/>
<rect x="192" y="967.6" width="1" height="3.0" fill="#f16d81"/>
<rect x="193" y="968.0" width="1" height="2.6" fill="#3db68c"/>
<rect x="194" y="966.5" width="1" height="4.1" fill="#3db68c"/>
<rect x="195" y="967.6" width="1" height="3.0" fill="#3db68c"/>
<rect x="196" y="968.1" width="1" height="2.5" fill="#f16d81"/>
<rect x="197" y="968.6" width="1" height="2.0" fill="#3db68c"/>
<rect x="198" y="969.0" width="1" height="1.6" fill="#3db68c"/>
<rect x="199" y="967.2" width="1" height="3.4" fill="#f16d81"/>
<rect x="200" y="967.0" width="1" height="3.6" fill="#3db68c"/>
<rect x="201" y="968.9" width="1" height="1.7" fill="#3db68c"/>
<rect x="202" y="969.0" width="1" height="1.6" fill="#f16d81"/>
<rect x="203" y="968.1" width="1" height="2.5" fill="#f16d81"/>
<rect x="204" y="967.5" width="1" height="3.1" fill="#3db68c"/>
<rect x="205" y="967.1" width="1" height="3.5" fill="#f16d81"/>
<rect x="206" y="968.2" width="1" height="2.4" fill="#3db68c"/>
<rect x="207" y="966.8" width="1" height="3.8" fill="#3db68c"/>
<rect x="208" y="968.5" width="1" height="2.1" fill="#3db68c"/>
<rect x="209" y="967.6" width="1" height="3.0" fill="#3db68c"/>
<rect x="210" y="968.6" width="1" height="2.0" fill="#f16d81"/>
<rect x="211" y="968.8" width="1" height="1.8" fill="#f16d81"/>
<rect x="212" y="967.6" width="1" height="3.0" fill="#3db68c"/>
<rect x="213" y="967.9" width="1" height="2.7" fill="#3db68c"/>
<rect x="214" y="967.7" width="1" height="2.9" fill="#f16d81"/>
<rect x="215" y="967.7" width="1" height="2.9" fill="#3db68c"/>
<rect x="216" y="968.2" width="1" height="2.4" fill="#f16d81"/>
<rect x="217" y="967.3" width="1" height="3.3" fill="#3db68c"/>
<rect x="218" y="968.9" width="1" height="1.7" fill="#f16d81"/>
<rect x="219" y="967.2" width="1" height="3.4" fill="#f16d81"/>
<rect x="220" y="968.3" width="1" height="2.3" fill="#3db68c"/>
<rect x="221" y="966.7" width="1" height="3.9" fill="#f16d81"/>
<rect x="222" y="969.0" width="1" height="1.6" fill="#3db68c"/>
<rect x="223" y="968.8" width="1" height="1.8" fill="#f16d81"/>
<rect x="224" y="967.3" width="1" height="3.3" fill="#f16d81"/>
<rect x="225" y="969.1" width="1" height="1.5" fill="#3db68c"/>
<rect x="226" y="967.3" width="1" height="3.3" fill="#f16d81"/>
<rect x="227" y="968.4" width="1" height="2.2" fill="#f16d81"/>
<rect x="228" y="969.3" width="1" height="1.3" fill="#3db68c"/>
<rect x="229" y="969.2" width="1" height="1.4" fill="#3db68c"/>
<rect x="230" y="969.0" width="1" height="1.6" fill="#f16d81"/>
<rect x="231" y="968.5" width="1" height="2.1" fill="#3db68c"/>
<rect x="232" y="968.2" width="1" height="2.4" fill="#f16d81"/>
<rect x="233" y="969.3" width="1" height="1.3" fill="#f16d81"/>
<rect x="234" y="969.0" width="1" height="1.6" fill="#3db68c"/>
<rect x="235" y="966.7" width="1" height="3.9" fill="#3db68c"/>
<rect x="236" y="968.0" width="1" height="2.6" fill="#3db68c"/>
<rect x="237" y="968.8" width="1" height="1.8" fill="#f16d81"/>
<rect x="238" y="968.6" width="1" height="2.0" fill="#f16d81"/>
<rect x="239" y="969.5" width="1" height="1.1" fill="#3db68c"/>
<rect x="240" y="967.9" width="1" height="2.7" fill="#3db68c"/>
<rect x="241" y="968.1" width="1" height="2.5" fill="#f16d81"/>
<rect x="242" y="968.9" width="1" height="1.7" fill="#f16d81"/>
<rect x="243" y="968.3" width="1" height="2.3" fill="#f16d81"/>
<rect x="244" y="969.1" width="1" height="1.5" fill="#3db68c"/>
<rect x="245" y="967.5" width="1" height="3.1" fill="#f16d81"/>
<rect x="246" y="968.2" width="1" height="2.4" fill="#3db68c"/>
<rect x="247" y="966.8" width="1" height="3.8" fill="#3db68c"/>
<rect x="248" y="967.9" width="1" height="2.7" fill="#f16d81"/>
<rect x="249" y="961.6" width="1" height="9.0" fill="#3db68c"/>
<rect x="250" y="966.2" width="1" height="4.4" fill="#3db68c"/>
<rect x="251" y="967.2" width="1" height="3.4" fill="#3db68c"/>
<rect x="252" y="965.9" width="1" height="4.7" fill="#f16d81"/>
<rect x="253" y="962.6" width="1" height="8.0" fill="#f16d81"/>
<rect x="254" y="959.6" width="1" height="11.0" fill="#3db68c"/>
<rect x="255" y="967.2" width="1" height="3.4" fill="#3db68c"/>
<rect x="256" y="968.2" width="1" height="2.4" fill="#3db68c"/>
<rect x="257" y="965.3" width="1" height="5.3" fill="#f16d81"/>
<rect x="258" y="968.2" width="1" height="2.4" fill="#f16d81"/>
<rect x="259" y="965.2" width="1" height="5.4" fill="#3db68c"/>
<rect x="260" y="967.0" width="1" height="3.6" fill="#f16d81"/>
<rect x="261" y="967.8" width="1" height="2.8" fill="#f16d81"/>
<rect x="262" y="967.3" width="1" height="3.3" fill="#3db68c"/>
<rect x="263" y="969.5" width="1" height="1.1" fill="#f16d81"/>
<rect x="264" y="967.3" width="1" height="3.3" fill="#3db68c"/>
<rect x="265" y="967.2" width="1" height="3.4" fill="#f16d81"/>
<rect x="266" y="967.4" width="1" height="3.2" fill="#f16d81"/>
<rect x="267" y="969.3" width="1" height="1.3" fill="#3db68c"/>
<rect x="268" y="967.7" width="1" height="2.9" fill="#3db68c"/>
<rect x="269" y="968.4" width="1" height="2.2" fill="#3db68c"/>
<rect x="270" y="967.4" width="1" height="3.2" fill="#3db68c"/>
<rect x="271" y="967.6" width="1" height="3.0" fill="#3db68c"/>
<rect x="272" y="967.2" width="1" height="3.4" fill="#f16d81"/>
<rect x="273" y="968.7" width="1" height="1.9" fill="#f16d81"/>
<rect x="274" y="965.4" width="1" height="5.2" fill="#f16d81"/>
<rect x="275" y="966.4" width="1" height="4.2" fill="#f16d81"/>
<rect x="276" y="969.4" width="1" height="1.2" fill="#f16d81"/>
<rect x="277" y="968.6" width="1" height="2.0" fill="#3db68c"/>
<rect x="278" y="968.2" width="1" height="2.4" fill="#3db68c"/>
<rect x="279" y="968.5" width="1" height="2.1" fill="#3db68c"/>
<rect x="280" y="969.1" width="1" height="1.5" fill="#f16d81"/>
<rect x="281" y="965.8" width="1" height="4.8" fill="#3db68c"/>
<rect x="282" y="959.9" width="1" height="10.7" fill="#f16d81"/>
<rect x="283" y="966.4" width="1" height="4.2" fill="#3db68c"/>
<rect x="284" y="955.0" width="1" height="15.6" fill="#f16d81"/>
<rect x="285" y="969.5" width="1" height="1.1" fill="#3db68c"/>
<rect x="286" y="965.9" width="1" height="4.7" fill="#f16d81"/>
<rect x="287" y="967.2" width="1" height="3.4" fill="#f16d81"/>
<rect x="288" y="967.2" width="1" height="3.4" fill="#f16d81"/>
<rect x="289" y="968.6" width="1" height="2.0" fill="#3db68c"/>
<rect x="290" y="963.3" width="1" height="7.3" fill="#3db68c"/>
<rect x="291" y="965.4" width="1" height="5.2" fill="#f16d81"/>
<rect x="292" y="916.0" width="1" height="54.6" fill="#f16d81"/>
<rect x="293" y="968.1" width="1" height="2.5" fill="#f16d81"/>
<rect x="294" y="963.4" width="1" height="7.2" fill="#f16d81"/>
<rect x="295" y="959.9" width="1" height="10.7" fill="#3db68c"/>
<rect x="296" y="963.4" width="1" height="7.2" fill="#f16d81"/>
<rect x="297" y="964.5" width="1" height="6.1" fill="#3db68c"/>
<rect x="298" y="966.9" width="1" height="3.7" fill="#3db68c"/>
<rect x="299" y="963.8" width="1" height="6.8" fill="#3db68c"/>
<rect x="300" y="965.8" width="1" height="4.8" fill="#f16d81"/>
<rect x="301" y="968.2" width="1" height="2.4" fill="#f16d81"/>
<rect x="302" y="879.0" width="1" height="91.6" fill="#f16d81"/>
<rect x="303" y="947.0" width="1" height="23.6" fill="#3db68c"/>
<rect x="304" y="947.0" width="1" height="23.6" fill="#3db68c"/>
<rect x="305" y="946.0" width="1" height="24.6" fill="#3db68c"/>
<rect x="306" y="951.0" width="1" height="19.6" fill="#3db68c"/>
<rect x="307" y="968.9" width="1" height="1.7" fill="#3db68c"/>
<rect x="308" y="953.7" width="1" height="16.9" fill="#3db68c"/>
<rect x="309" y="963.2" width="1" height="7.4" fill="#3db68c"/>
<rect x="310" y="968.8" width="1" height="1.8" fill="#3db68c"/>
<rect x="311" y="966.1" width="1" height="4.5" fill="#f16d81"/>
<rect x="312" y="963.2" width="1" height="7.4" fill="#f16d81"/>
<rect x="313" y="964.0" width="1" height="6.6" fill="#3db68c"/>
<rect x="314" y="968.9" width="1" height="1.7" fill="#f16d81"/>
<rect x="315" y="964.3" width="1" height="6.3" fill="#3db68c"/>
<rect x="316" y="968.6" width="1" height="2.0" fill="#f16d81"/>
<rect x="317" y="949.0" width="1" height="21.6" fill="#f16d81"/>
<rect x="318" y="968.8" width="1" height="1.8" fill="#f16d81"/>
<rect x="319" y="963.7" width="1" height="6.9" fill="#3db68c"/>
<rect x="320" y="963.1" width="1" height="7.5" fill="#f16d81"/>
<rect x="321" y="965.5" width="1" height="5.1" fill="#f16d81"/>
<rect x="322" y="962.9" width="1" height="7.7" fill="#3db68c"/>
<rect x="323" y="969.1" width="1" height="1.5" fill="#f16d81"/>
<rect x="324" y="959.1" width="1" height="11.5" fill="#3db68c"/>
<rect x="325" y="967.3" width="1" height="3.3" fill="#3db68c"/>
<rect x="326" y="966.6" width="1" height="4.0" fill="#3db68c"/>
<rect x="327" y="966.6" width="1" height="4.0" fill="#3db68c"/>
<rect x="328" y="958.7" width="1" height="11.9" fill="#3db68c"/>
<rect x="329" y="969.5" width="1" height="1.1" fill="#f16d81"/>
<rect x="330" y="963.7" width="1" height="6.9" fill="#f16d81"/>
<rect x="331" y="966.7" width="1" height="3.9" fill="#3db68c"/>
<rect x="332" y="964.4" width="1" height="6.2" fill="#3db68c"/>
<rect x="333" y="963.1" width="1" height="7.5" fill="#f16d81"/>
<rect x="334" y="952.9" width="1" height="17.7" fill="#3db68c"/>
<rect x="335" y="968.9" width="1" height="1.7" fill="#f16d81"/>
<rect x="336" y="967.3" width="1" height="3.3" fill="#f16d81"/>
<rect x="337" y="960.6" width="1" height="10.0" fill="#f16d81"/>
<rect x="338" y="964.0" width="1" height="6.6" fill="#3db68c"/>
<rect x="339" y="965.6" width="1" height="5.0" fill="#f16d81"/>
<rect x="340" y="966.1" width="1" height="4.5" fill="#3db68c"/>
<rect x="341" y="964.0" width="1" height="6.6" fill="#3db68c"/>
<rect x="342" y="967.6" width="1" height="3.0" fill="#f16d81"/>
<rect x="343" y="964.4" width="1" height="6.2" fill="#f16d81"/>
<rect x="344" y="963.9" width="1" height="6.7" fill="#3db68c"/>
<rect x="345" y="968.7" width="1" height="1.9" fill="#3db68c"/>
<rect x="346" y="963.4" width="1" height="7.2" fill="#3db68c"/>
<rect x="347" y="964.2" width="1" height="6.4" fill="#f16d81"/>
<rect x="348" y="966.8" width="1" height="3.8" fill="#f16d81"/>
<rect x="349" y="969.1" width="1" height="1.5" fill="#3db68c"/>
<rect x="350" y="941.0" width="1" height="29.6" fill="#3db68c"/>
<rect x="351" y="933.0" width="1" height="37.6" fill="#3db68c"/>
<rect x="352" y="916.0" width="1" height="54.6" fill="#3db68c"/>
<rect x="353" y="922.0" width="1" height="48.6" fill="#f16d81"/>
<rect x="354" y="927.0" width="1" height="43.6" fill="#3db68c"/>
<rect x="355" y="936.0" width="1" height="34.6" fill="#f16d81"/>
<rect x="356" y="947.0" width="1" height="23.6" fill="#f16d81"/>
<rect x="357" y="951.0" width="1" height="19.6" fill="#3db68c"/>
<rect x="358" y="953.0" width="1" height="17.6" fill="#f16d81"/>
<rect x="359" y="945.0" width="1" height="25.6" fill="#f16d81"/>
<rect x="360" y="953.6" width="1" height="17.0" fill="#f16d81"/>
<rect x="361" y="964.8" width="1" height="5.8" fill="#f16d81"/>
<rect x="362" y="953.0" width="1" height="17.6" fill="#f16d81"/>
<rect x="363" y="946.2" width="1" height="24.4" fill="#f16d81"/>
<rect x="364" y="969.4" width="1" height="1.2" fill="#3db68c"/>
<rect x="365" y="953.6" width="1" height="17.0" fill="#f16d81"/>
<rect x="366" y="953.8" width="1" height="16.8" fill="#f16d81"/>
<rect x="367" y="965.9" width="1" height="4.7" fill="#3db68c"/>
<rect x="368" y="956.0" width="1" height="14.6" fill="#f16d81"/>
<rect x="369" y="964.2" width="1" height="6.4" fill="#3db68c"/>
<rect x="370" y="960.5" width="1" height="10.1" fill="#f16d81"/>
<rect x="371" y="963.4" width="1" height="7.2" fill="#3db68c"/>
<rect x="372" y="964.5" width="1" height="6.1" fill="#f16d81"/>
<rect x="373" y="963.5" width="1" height="7.1" fill="#f16d81"/>
<rect x="374" y="961.0" width="1" height="9.6" fill="#3db68c"/>
<rect x="375" y="968.7" width="1" height="1.9" fill="#f16d81"/>
<rect x="376" y="963.7" width="1" height="6.9" fill="#3db68c"/>
<rect x="377" y="966.1" width="1" height="4.5" fill="#f16d81"/>
<rect x="378" y="963.5" width="1" height="7.1" fill="#3db68c"/>
<rect x="379" y="969.5" width="1" height="1.1" fill="#3db68c"/>
<rect x="380" y="958.5" width="1" height="12.1" fill="#f16d81"/>
<rect x="381" y="967.6" width="1" height="3.0" fill="#3db68c"/>
<rect x="382" y="965.2" width="1" height="5.4" fill="#3db68c"/>
<rect x="383" y="961.9" width="1" height="8.7" fill="#f16d81"/>
<rect x="384" y="964.5" width="1" height="6.1" fill="#f16d81"/>
<rect x="385" y="952.7" width="1" height="17.9" fill="#3db68c"/>
<rect x="386" y="965.2" width="1" height="5.4" fill="#f16d81"/>
<rect x="387" y="966.5" width="1" height="4.1" fill="#f16d81"/>
<rect x="388" y="966.5" width="1" height="4.1" fill="#f16d81"/>
<rect x="389" y="962.8" width="1" height="7.8" fill="#f16d81"/>
<rect x="390" y="956.8" width="1" height="13.8" fill="#3db68c"/>
<rect x="391" y="966.2" width="1" height="4.4" fill="#3db68c"/>
<rect x="392" y="966.2" width="1" height="4.4" fill="#3db68c"/>
<rect x="393" y="964.8" width="1" height="5.8" fill="#3db68c"/>
<rect x="394" y="965.4" width="1" height="5.2" fill="#3db68c"/>
<rect x="395" y="964.4" width="1" height="6.2" fill="#3db68c"/>
<rect x="396" y="964.3" width="1" height="6.3" fill="#3db68c"/>
<rect x="397" y="969.4" width="1" height="1.2" fill="#f16d81"/>
<rect x="398" y="964.9" width="1" height="5.7" fill="#f16d81"/>
<rect x="399" y="966.3" width="1" height="4.3" fill="#3db68c"/>
<rect x="400" y="969.2" width="1" height="1.4" fill="#3db68c"/>
<rect x="401" y="963.6" width="1" height="7.0" fill="#f16d81"/>
<rect x="402" y="964.9" width="1" height="5.7" fill="#3db68c"/>
<rect x="403" y="969.0" width="1" height="1.6" fill="#f16d81"/>
<rect x="404" y="956.8" width="1" height="13.8" fill="#3db68c"/>
<rect x="405" y="966.2" width="1" height="4.4" fill="#3db68c"/>
<rect x="406" y="967.6" width="1" height="3.0" fill="#f16d81"/>
<rect x="407" y="969.2" width="1" height="1.4" fill="#f16d81"/>
<rect x="408" y="962.1" width="1" height="8.5" fill="#3db68c"/>
<rect x="409" y="957.6" width="1" height="13.0" fill="#f16d81"/>
<rect x="410" y="968.4" width="1" height="2.2" fill="#f16d81"/>
<rect x="411" y="964.8" width="1" height="5.8" fill="#f16d81"/>
<rect x="412" y="969.2" width="1" height="1.4" fill="#3db68c"/>
<rect x="413" y="966.0" width="1" height="4.6" fill="#f16d81"/>
<rect x="414" y="962.7" width="1" height="7.9" fill="#3db68c"/>
<rect x="415" y="957.6" width="1" height="13.0" fill="#3db68c"/>
<rect x="416" y="965.4" width="1" height="5.2" fill="#f16d81"/>
<rect x="417" y="966.7" width="1" height="3.9" fill="#f16d81"/>
<rect x="418" y="964.3" width="1" height="6.3" fill="#3db68c"/>
<rect x="419" y="964.8" width="1" height="5.8" fill="#3db68c"/>
<rect x="420" y="966.7" width="1" height="3.9" fill="#f16d81"/>
<rect x="421" y="962.0" width="1" height="8.6" fill="#f16d81"/>
<rect x="422" y="967.7" width="1" height="2.9" fill="#f16d81"/>
<rect x="423" y="961.0" width="1" height="9.6" fill="#f16d81"/>
<rect x="424" y="965.6" width="1" height="5.0" fill="#3db68c"/>
<rect x="425" y="963.3" width="1" height="7.3" fill="#3db68c"/>
<rect x="426" y="967.4" width="1" height="3.2" fill="#f16d81"/>
<rect x="427" y="964.5" width="1" height="6.1" fill="#f16d81"/>
<rect x="428" y="968.1" width="1" height="2.5" fill="#f16d81"/>
<rect x="429" y="965.6" width="1" height="5.0" fill="#f16d81"/>
<rect x="430" y="962.6" width="1" height="8.0" fill="#f16d81"/>
<rect x="431" y="964.6" width="1" height="6.0" fill="#f16d81"/>
<rect x="432" y="967.4" width="1" height="3.2" fill="#3db68c"/>
<rect x="433" y="969.4" width="1" height="1.2" fill="#f16d81"/>
<rect x="434" y="968.8" width="1" height="1.8" fill="#3db68c"/>
<rect x="435" y="961.8" width="1" height="8.8" fill="#f16d81"/>
<rect x="436" y="969.0" width="1" height="1.6" fill="#f16d81"/>
<rect x="437" y="962.3" width="1" height="8.3" fill="#f16d81"/>
<rect x="438" y="965.2" width="1" height="5.4" fill="#3db68c"/>
<rect x="439" y="965.7" width="1" height="4.9" fill="#3db68c"/>
<rect x="440" y="967.9" width="1" height="2.7" fill="#3db68c"/>
<rect x="441" y="965.6" width="1" height="5.0" fill="#f16d81"/>
<rect x="442" y="962.9" width="1" height="7.7" fill="#f16d81"/>
<rect x="443" y="963.2" width="1" height="7.4" fill="#3db68c"/>
<rect x="444" y="962.6" width="1" height="8.0" fill="#3db68c"/>
<rect x="445" y="963.1" width="1" height="7.5" fill="#f16d81"/>
<rect x="446" y="966.0" width="1" height="4.6" fill="#3db68c"/>
<rect x="447" y="966.5" width="1" height="4.1" fill="#f16d81"/>
<rect x="448" y="966.6" width="1" height="4.0" fill="#3db68c"/>
<rect x="449" y="967.3" width="1" height="3.3" fill="#f16d81"/>
<rect x="450" y="967.0" width="1" height="3.6" fill="#3db68c"/>
<rect x="451" y="966.1" width="1" height="4.5" fill="#3db68c"/>
<rect x="452" y="964.3" width="1" height="6.3" fill="#f16d81"/>
<rect x="453" y="966.3" width="1" height="4.3" fill="#3db68c"/>
<rect x="454" y="955.0" width="1" height="15.6" fill="#3db68c"/>
<rect x="455" y="966.2" width="1" height="4.4" fill="#3db68c"/>
<rect x="456" y="964.7" width="1" height="5.9" fill="#3db68c"/>
<rect x="457" y="967.8" width="1" height="2.8" fill="#f16d81"/>
<rect x="458" y="957.0" width="1" height="13.6" fill="#f16d81"/>
<rect x="459" y="969.1" width="1" height="1.5" fill="#f16d81"/>
<rect x="460" y="964.1" width="1" height="6.5" fill="#f16d81"/>
<rect x="461" y="965.4" width="1" height="5.2" fill="#3db68c"/>
<rect x="462" y="965.3" width="1" height="5.3" fill="#3db68c"/>
<rect x="463" y="967.9" width="1" height="2.7" fill="#f16d81"/>
<rect x="464" y="968.3" width="1" height="2.3" fill="#3db68c"/>
<rect x="465" y="967.4" width="1" height="3.2" fill="#f16d81"/>
<rect x="466" y="967.7" width="1" height="2.9" fill="#3db68c"/>
<rect x="467" y="966.2" width="1" height="4.4" fill="#3db68c"/>
<rect x="468" y="961.0" width="1" height="9.6" fill="#f16d81"/>
<rect x="469" y="967.0" width="1" height="3.6" fill="#3db68c"/>
<rect x="470" y="966.9" width="1" height="3.7" fill="#f16d81"/>
<rect x="471" y="967.2" width="1" height="3.4" fill="#f16d81"/>
<rect x="472" y="969.1" width="1" height="1.5" fill="#3db68c"/>
<rect x="473" y="969.5" width="1" height="1.1" fill="#3db68c"/>
<rect x="474" y="966.1" width="1" height="4.5" fill="#f16d81"/>
<rect x="475" y="965.2" width="1" height="5.4" fill="#3db68c"/>
<rect x="476" y="964.8" width="1" height="5.8" fill="#f16d81"/>
<rect x="477" y="963.4" width="1" height="7.2" fill="#f16d81"/>
<rect x="478" y="964.6" width="1" height="6.0" fill="#f16d81"/>
<rect x="479" y="968.5" width="1" height="2.1" fill="#3db68c"/>
<rect x="480" y="964.3" width="1" height="6.3" fill="#3db68c"/>
<rect x="481" y="964.7" width="1" height="5.9" fill="#f16d81"/>
<rect x="482" y="966.5" width="1" height="4.1" fill="#f16d81"/>
<rect x="483" y="963.4" width="1" height="7.2" fill="#f16d81"/>
<rect x="484" y="966.2" width="1" height="4.4" fill="#f16d81"/>
<rect x="485" y="965.7" width="1" height="4.9" fill="#3db68c"/>
<rect x="486" y="969.2" width="1" height="1.4" fill="#3db68c"/>
<rect x="487" y="962.2" width="1" height="8.4" fill="#3db68c"/>
<rect x="488" y="964.9" width="1" height="5.7" fill="#f16d81"/>
<rect x="489" y="967.6" width="1" height="3.0" fill="#3db68c"/>
<rect x="490" y="965.2" width="1" height="5.4" fill="#3db68c"/>
<rect x="491" y="969.1" width="1" height="1.5" fill="#f16d81"/>
<rect x="492" y="969.0" width="1" height="1.6" fill="#3db68c"/>
<rect x="493" y="968.1" width="1" height="2.5" fill="#f16d81"/>
<rect x="494" y="966.7" width="1" height="3.9" fill="#3db68c"/>
<rect x="495" y="965.0" width="1" height="5.6" fill="#3db68c"/>
<rect x="496" y="963.4" width="1" height="7.2" fill="#f16d81"/>
<rect x="497" y="967.5" width="1" height="3.1" fill="#3db68c"/>
<rect x="498" y="965.6" width="1" height="5.0" fill="#3db68c"/>
<rect x="499" y="966.7" width="1" height="3.9" fill="#f16d81"/>
<rect x="500" y="965.4" width="1" height="5.2" fill="#f16d81"/>
<rect x="501" y="967.1" width="1" height="3.5" fill="#3db68c"/>
<rect x="502" y="964.5" width="1" height="6.1" fill="#3db68c"/>
<rect x="503" y="964.6" width="1" height="6.0" fill="#3db68c"/>
<rect x="504" y="963.9" width="1" height="6.7" fill="#f16d81"/>
<rect x="505" y="966.5" width="1" height="4.1" fill="#f16d81"/>
<rect x="506" y="964.8" width="1" height="5.8" fill="#3db68c"/>
<rect x="507" y="964.1" width="1" height="6.5" fill="#f16d81"/>
<rect x="508" y="968.1" width="1" height="2.5" fill="#f16d81"/>
<rect x="509" y="963.7" width="1" height="6.9" fill="#3db68c"/>
<rect x="510" y="965.5" width="1" height="5.1" fill="#3db68c"/>
<rect x="511" y="968.4" width="1" height="2.2" fill="#3db68c"/>
<rect x="512" y="966.4" width="1" height="4.2" fill="#3db68c"/>
<rect x="513" y="963.8" width="1" height="6.8" fill="#f16d81"/>
<rect x="514" y="966.8" width="1" height="3.8" fill="#f16d81"/>
<rect x="515" y="967.8" width="1" height="2.8" fill="#f16d81"/>
<rect x="516" y="960.0" width="1" height="10.6" fill="#3db68c"/>
<rect x="517" y="964.9" width="1" height="5.7" fill="#f16d81"/>
<rect x="518" y="964.1" width="1" height="6.5" fill="#3db68c"/>
<rect x="519" y="969.5" width="1" height="1.1" fill="#3db68c"/>
<rect x="520" y="964.1" width="1" height="6.5" fill="#f16d81"/>
<rect x="521" y="967.7" width="1" height="2.9" fill="#f16d81"/>
<rect x="522" y="968.5" width="1" height="2.1" fill="#f16d81"/>
<rect x="523" y="966.1" width="1" height="4.5" fill="#3db68c"/>
<rect x="524" y="966.0" width="1" height="4.6" fill="#f16d81"/>
<rect x="525" y="966.9" width="1" height="3.7" fill="#3db68c"/>
<rect x="526" y="967.2" width="1" height="3.4" fill="#3db68c"/>
<rect x="527" y="965.8" width="1" height="4.8" fill="#3db68c"/>
<rect x="528" y="964.5" width="1" height="6.1" fill="#3db68c"/>
<rect x="529" y="964.3" width="1" height="6.3" fill="#3db68c"/>
<rect x="530" y="968.1" width="1" height="2.5" fill="#f16d81"/>
<rect x="531" y="968.5" width="1" height="2.1" fill="#f16d81"/>
<rect x="532" y="968.7" width="1" height="1.9" fill="#f16d81"/>
<rect x="533" y="967.5" width="1" height="3.1" fill="#3db68c"/>
<rect x="534" y="967.5" width="1" height="3.1" fill="#3db68c"/>
<rect x="535" y="967.9" width="1" height="2.7" fill="#f16d81"/>
<rect x="536" y="968.2" width="1" height="2.4" fill="#f16d81"/>
<rect x="537" y="967.6" width="1" height="3.0" fill="#3db68c"/>
<rect x="538" y="967.6" width="1" height="3.0" fill="#3db68c"/>
<rect x="539" y="967.8" width="1" height="2.8" fill="#3db68c"/>
<rect x="540" y="968.3" width="1" height="2.3" fill="#f16d81"/>
<rect x="541" y="968.7" width="1" height="1.9" fill="#3db68c"/>
<rect x="542" y="969.3" width="1" height="1.3" fill="#f16d81"/>
<rect x="543" y="968.2" width="1" height="2.4" fill="#3db68c"/>
<rect x="544" y="968.5" width="1" height="2.1" fill="#f16d81"/>
<rect x="545" y="969.3" width="1" height="1.3" fill="#f16d81"/>
<rect x="546" y="969.6" width="1" height="1.0" fill="#f16d81"/>
<rect x="547" y="967.8" width="1" height="2.8" fill="#f16d81"/>
<rect x="548" y="968.8" width="1" height="1.8" fill="#f16d81"/>
<rect x="549" y="967.6" width="1" height="3.0" fill="#3db68c"/>
<rect x="550" y="964.6" width="1" height="6.0" fill="#f16d81"/>
<rect x="551" y="969.4" width="1" height="1.2" fill="#3db68c"/>
<rect x="552" y="969.6" width="1" height="1.0" fill="#f16d81"/>
<rect x="553" y="968.7" width="1" height="1.9" fill="#f16d81"/>
<rect x="554" y="967.9" width="1" height="2.7" fill="#3db68c"/>
<rect x="555" y="969.1" width="1" height="1.5" fill="#3db68c"/>
<rect x="556" y="968.4" width="1" height="2.2" fill="#f16d81"/>
<rect x="557" y="967.5" width="1" height="3.1" fill="#3db68c"/>
<rect x="558" y="968.9" width="1" height="1.7" fill="#3db68c"/>
<rect x="559" y="969.4" width="1" height="1.2" fill="#3db68c"/>
<rect x="560" y="967.4" width="1" height="3.2" fill="#f16d81"/>
<rect x="561" y="968.8" width="1" height="1.8" fill="#f16d81"/>
<rect x="562" y="969.4" width="1" height="1.2" fill="#3db68c"/>
<rect x="563" y="968.1" width="1" height="2.5" fill="#f16d81"/>
<rect x="564" y="968.2" width="1" height="2.4" fill="#f16d81"/>
<rect x="565" y="967.7" width="1" height="2.9" fill="#3db68c"/>
<rect x="566" y="969.1" width="1" height="1.5" fill="#f16d81"/>
<rect x="567" y="968.6" width="1" height="2.0" fill="#f16d81"/>
<rect x="568" y="967.7" width="1" height="2.9" fill="#f16d81"/>
<rect x="569" y="967.6" width="1" height="3.0" fill="#f16d81"/>
<rect x="570" y="969.0" width="1" height="1.6" fill="#3db68c"/>
<rect x="571" y="967.5" width="1" height="3.1" fill="#3db68c"/>
<rect x="572" y="967.5" width="1" height="3.1" fill="#3db68c"/>
<rect x="573" y="968.4" width="1" height="2.2" fill="#f16d81"/>
<rect x="574" y="969.0" width="1" height="1.6" fill="#f16d81"/>
<rect x="575" y="968.8" width="1" height="1.8" fill="#f16d81"/>
<rect x="576" y="968.9" width="1" height="1.7" fill="#3db68c"/>
<rect x="577" y="968.4" width="1" height="2.2" fill="#3db68c"/>
<rect x="578" y="968.6" width="1" height="2.0" fill="#3db68c"/>
<rect x="579" y="969.4" width="1" height="1.2" fill="#f16d81"/>
<rect x="580" y="968.2" width="1" height="2.4" fill="#f16d81"/>
<rect x="581" y="968.1" width="1" height="2.5" fill="#f16d81"/>
<rect x="582" y="969.2" width="1" height="1.4" fill="#3db68c"/>
<rect x="583" y="969.5" width="1" height="1.1" fill="#3db68c"/>
<rect x="584" y="968.3" width="1" height="2.3" fill="#f16d81"/>
<rect x="585" y="969.4" width="1" height="1.2" fill="#f16d81"/>
<rect x="586" y="969.3" width="1" height="1.3" fill="#f16d81"/>
<rect x="587" y="968.6" width="1" height="2.0" fill="#f16d81"/>
<rect x="588" y="968.8" width="1" height="1.8" fill="#3db68c"/>
<rect x="589" y="967.6" width="1" height="3.0" fill="#f16d81"/>
<rect x="590" y="968.2" width="1" height="2.4" fill="#f16d81"/>
<rect x="591" y="967.8" width="1" height="2.8" fill="#3db68c"/>
<rect x="592" y="968.5" width="1" height="2.1" fill="#3db68c"/>
<rect x="593" y="968.2" width="1" height="2.4" fill="#3db68c"/>
<rect x="594" y="968.3" width="1" height="2.3" fill="#3db68c"/>
<rect x="595" y="967.4" width="1" height="3.2" fill="#f16d81"/>
<rect x="596" y="968.1" width="1" height="2.5" fill="#f16d81"/>
<rect x="597" y="969.0" width="1" height="1.6" fill="#f16d81"/>
<rect x="598" y="968.8" width="1" height="1.8" fill="#3db68c"/>
<rect x="599" y="969.4" width="1" height="1.2" fill="#3db68c"/>
<rect x="600" y="969.1" width="1" height="1.5" fill="#3db68c"/>
<rect x="601" y="967.9" width="1" height="2.7" fill="#f16d81"/>
<rect x="602" y="968.3" width="1" height="2.3" fill="#f16d81"/>
<rect x="603" y="969.0" width="1" height="1.6" fill="#3db68c"/>
<rect x="604" y="968.4" width="1" height="2.2" fill="#3db68c"/>
<rect x="605" y="968.3" width="1" height="2.3" fill="#f16d81"/>
<rect x="606" y="968.3" width="1" height="2.3" fill="#f16d81"/>
<rect x="607" y="967.4" width="1" height="3.2" fill="#f16d81"/>
<rect x="608" y="968.4" width="1" height="2.2" fill="#f16d81"/>
<rect x="609" y="968.2" width="1" height="2.4" fill="#f16d81"/>
<rect x="610" y="967.9" width="1" height="2.7" fill="#f16d81"/>
<rect x="611" y="969.1" width="1" height="1.5" fill="#3db68c"/>
<rect x="612" y="968.1" width="1" height="2.5" fill="#3db68c"/>
<rect x="613" y="969.4" width="1" height="1.2" fill="#3db68c"/>
<rect x="614" y="969.0" width="1" height="1.6" fill="#f16d81"/>
<rect x="615" y="968.6" width="1" height="2.0" fill="#f16d81"/>
<rect x="616" y="969.1" width="1" height="1.5" fill="#f16d81"/>
<rect x="617" y="968.4" width="1" height="2.2" fill="#3db68c"/>
<rect x="618" y="969.2" width="1" height="1.4" fill="#3db68c"/>
<rect x="619" y="968.3" width="1" height="2.3" fill="#f16d81"/>
<rect x="620" y="967.5" width="1" height="3.1" fill="#f16d81"/>
<rect x="621" y="969.0" width="1" height="1.6" fill="#3db68c"/>
<rect x="622" y="969.1" width="1" height="1.5" fill="#3db68c"/>
<rect x="623" y="967.8" width="1" height="2.8" fill="#f16d81"/>
<rect x="624" y="968.3" width="1" height="2.3" fill="#f16d81"/>
<rect x="625" y="968.6" width="1" height="2.0" fill="#3db68c"/>
<rect x="626" y="969.2" width="1" height="1.4" fill="#f16d81"/>
<rect x="627" y="968.9" width="1" height="1.7" fill="#3db68c"/>
<rect x="628" y="968.2" width="1" height="2.4" fill="#f16d81"/>
<rect x="629" y="969.3" width="1" height="1.3" fill="#3db68c"/>
<rect x="630" y="968.6" width="1" height="2.0" fill="#f16d81"/>
<rect x="631" y="968.4" width="1" height="2.2" fill="#f16d81"/>
<rect x="632" y="968.3" width="1" height="2.3" fill="#f16d81"/>
<rect x="633" y="968.9" width="1" height="1.7" fill="#f16d81"/>
<rect x="634" y="969.0" width="1" height="1.6" fill="#3db68c"/>
<rect x="635" y="969.5" width="1" height="1.1" fill="#f16d81"/>
<rect x="636" y="968.0" width="1" height="2.6" fill="#f16d81"/>
<rect x="637" y="968.7" width="1" height="1.9" fill="#3db68c"/>
<rect x="638" y="968.3" width="1" height="2.3" fill="#3db68c"/>
<rect x="639" y="968.8" width="1" height="1.8" fill="#3db68c"/>
<rect x="640" y="967.9" width="1" height="2.7" fill="#3db68c"/>
<rect x="641" y="967.6" width="1" height="3.0" fill="#3db68c"/>
<rect x="642" y="967.8" width="1" height="2.8" fill="#3db68c"/>
<rect x="643" y="967.8" width="1" height="2.8" fill="#f16d81"/>
<rect x="644" y="961.0" width="1" height="9.6" fill="#3db68c"/>
<rect x="645" y="968.4" width="1" height="2.2" fill="#3db68c"/>
<rect x="646" y="968.4" width="1" height="2.2" fill="#3db68c"/>
<rect x="647" y="968.7" width="1" height="1.9" fill="#f16d81"/>
<rect x="648" y="968.9" width="1" height="1.7" fill="#f16d81"/>
<rect x="649" y="968.9" width="1" height="1.7" fill="#3db68c"/>
<rect x="650" y="968.0" width="1" height="2.6" fill="#3db68c"/>
<rect x="651" y="967.9" width="1" height="2.7" fill="#3db68c"/>
<rect x="652" y="966.6" width="1" height="4.0" fill="#3db68c"/>
<rect x="653" y="967.7" width="1" height="2.9" fill="#f16d81"/>
<rect x="654" y="969.1" width="1" height="1.5" fill="#3db68c"/>
<rect x="655" y="969.1" width="1" height="1.5" fill="#3db68c"/>
<rect x="656" y="967.5" width="1" height="3.1" fill="#3db68c"/>
<rect x="657" y="968.1" width="1" height="2.5" fill="#f16d81"/>
<rect x="658" y="968.4" width="1" height="2.2" fill="#3db68c"/>
<rect x="659" y="967.5" width="1" height="3.1" fill="#f16d81"/>
<rect x="660" y="967.4" width="1" height="3.2" fill="#3db68c"/>
<rect x="661" y="967.7" width="1" height="2.9" fill="#3db68c"/>
<rect x="662" y="968.4" width="1" height="2.2" fill="#f16d81"/>
<rect x="663" y="969.1" width="1" height="1.5" fill="#3db68c"/>
<rect x="664" y="968.4" width="1" height="2.2" fill="#f16d81"/>
<rect x="665" y="969.4" width="1" height="1.2" fill="#f16d81"/>
<rect x="666" y="969.3" width="1" height="1.3" fill="#3db68c"/>
<rect x="667" y="969.6" width="1" height="1.0" fill="#f16d81"/>
<rect x="668" y="968.0" width="1" height="2.6" fill="#f16d81"/>
<rect x="669" y="968.9" width="1" height="1.7" fill="#f16d81"/>
<rect x="670" y="968.6" width="1" height="2.0" fill="#3db68c"/>
<rect x="671" y="967.8" width="1" height="2.8" fill="#3db68c"/>
<rect x="672" y="969.3" width="1" height="1.3" fill="#f16d81"/>
<rect x="673" y="969.5" width="1" height="1.1" fill="#f16d81"/>
<rect x="674" y="968.6" width="1" height="2.0" fill="#3db68c"/>
<rect x="675" y="968.9" width="1" height="1.7" fill="#3db68c"/>
<rect x="676" y="969.3" width="1" height="1.3" fill="#3db68c"/>
<rect x="677" y="967.7" width="1" height="2.9" fill="#f16d81"/>
<rect x="678" y="969.0" width="1" height="1.6" fill="#f16d81"/>
<rect x="679" y="969.2" width="1" height="1.4" fill="#3db68c"/>
<rect x="680" y="967.6" width="1" height="3.0" fill="#f16d81"/>
<rect x="681" y="969.2" width="1" height="1.4" fill="#f16d81"/>
<rect x="682" y="968.4" width="1" height="2.2" fill="#f16d81"/>
<rect x="683" y="969.2" width="1" height="1.4" fill="#f16d81"/>
<rect x="684" y="968.2" width="1" height="2.4" fill="#3db68c"/>
<rect x="685" y="968.0" width="1" height="2.6" fill="#3db68c"/>
<rect x="686" y="967.5" width="1" height="3.1" fill="#3db68c"/>
<rect x="687" y="967.7" width="1" height="2.9" fill="#f16d81"/>
<rect x="688" y="968.9" width="1" height="1.7" fill="#3db68c"/>
<rect x="689" y="968.7" width="1" height="1.9" fill="#f16d81"/>
<rect x="690" y="969.1" width="1" height="1.5" fill="#3db68c"/>
<rect x="691" y="969.3" width="1" height="1.3" fill="#f16d81"/>
<rect x="692" y="969.0" width="1" height="1.6" fill="#f16d81"/>
<rect x="693" y="968.5" width="1" height="2.1" fill="#3db68c"/>
<rect x="694" y="967.9" width="1" height="2.7" fill="#3db68c"/>
<rect x="695" y="967.8" width="1" height="2.8" fill="#f16d81"/>
<rect x="696" y="936.0" width="1" height="34.6" fill="#3db68c"/>
<rect x="697" y="968.3" width="1" height="2.3" fill="#f16d81"/>
<rect x="698" y="967.5" width="1" height="3.1" fill="#f16d81"/>
<rect x="699" y="968.1" width="1" height="2.5" fill="#3db68c"/>
<rect x="700" y="969.3" width="1" height="1.3" fill="#f16d81"/>
<rect x="701" y="968.6" width="1" height="2.0" fill="#f16d81"/>
<rect x="702" y="968.6" width="1" height="2.0" fill="#f16d81"/>
<rect x="703" y="968.4" width="1" height="2.2" fill="#f16d81"/>
<rect x="704" y="969.6" width="1" height="1.0" fill="#3db68c"/>
<rect x="705" y="968.4" width="1" height="2.2" fill="#3db68c"/>
<rect x="706" y="967.8" width="1" height="2.8" fill="#f16d81"/>
<rect x="707" y="963.0" width="1" height="7.6" fill="#3db68c"/>
<rect x="708" y="969.2" width="1" height="1.4" fill="#f16d81"/>
<rect x="709" y="969.1" width="1" height="1.5" fill="#3db68c"/>
<rect x="710" y="968.0" width="1" height="2.6" fill="#f16d81"/>
<rect x="711" y="969.2" width="1" height="1.4" fill="#f16d81"/>
<rect x="712" y="967.4" width="1" height="3.2" fill="#f16d81"/>
<rect x="713" y="968.2" width="1" height="2.4" fill="#3db68c"/>
<rect x="714" y="969.6" width="1" height="1.0" fill="#3db68c"/>
<rect x="715" y="969.5" width="1" height="1.1" fill="#f16d81"/>
<rect x="716" y="968.4" width="1" height="2.2" fill="#3db68c"/>
<rect x="717" y="968.9" width="1" height="1.7" fill="#3db68c"/>
<rect x="718" y="967.9" width="1" height="2.7" fill="#3db68c"/>
<rect x="719" y="968.5" width="1" height="2.1" fill="#f16d81"/>
<rect x="720" y="968.3" width="1" height="2.3" fill="#f16d81"/>
<rect x="721" y="969.4" width="1" height="1.2" fill="#3db68c"/>
<rect x="722" y="969.1" width="1" height="1.5" fill="#3db68c"/>
<rect x="723" y="968.4" width="1" height="2.2" fill="#3db68c"/>
<rect x="724" y="967.9" width="1" height="2.7" fill="#f16d81"/>
<rect x="725" y="963.0" width="1" height="7.6" fill="#f16d81"/>
<text x="54.5" y="259.1" text-anchor="end" font-family="Liberation Sans, sans-serif" font-size="12" fill="#14a57a">22821</text>
<text x="1158" y="259.1" font-family="Liberation Sans, sans-serif" font-size="12" letter-spacing="-0.4" fill="#14a57a">0.10%</text>
<text x="54.5" y="317.7" text-anchor="end" font-family="Liberation Sans, sans-serif" font-size="12" fill="#4f5b74">22798</text>
<text x="1158" y="317.7" font-family="Liberation Sans, sans-serif" font-size="12" letter-spacing="-0.4" fill="#4f5b74">0.00%</text>
<text x="54.5" y="376.2" text-anchor="end" font-family="Liberation Sans, sans-serif" font-size="12" fill="#eb3a57">22775</text>
<text x="1158" y="376.2" font-family="Liberation Sans, sans-serif" font-size="12" letter-spacing="-0.4" fill="#eb3a57">-0.10%</text>
<text x="54.5" y="434.8" text-anchor="end" font-family="Liberation Sans, sans-serif" font-size="12" fill="#eb3a57">22752</text>
<text x="1158" y="434.8" font-family="Liberation Sans, sans-serif" font-size="12" letter-spacing="-0.4" fill="#eb3a57">-0.20%</text>
<text x="54.5" y="493.3" text-anchor="end" font-family="Liberation Sans, sans-serif" font-size="12" fill="#eb3a57">22730</text>
<text x="1158" y="493.3" font-family="Liberation Sans, sans-serif" font-size="12" letter-spacing="-0.4" fill="#eb3a57">-0.30%</text>
<text x="54.5" y="551.9" text-anchor="end" font-family="Liberation Sans, sans-serif" font-size="12" fill="#eb3a57">22707</text>
<text x="1158" y="551.9" font-family="Liberation Sans, sans-serif" font-size="12" letter-spacing="-0.4" fill="#eb3a57">-0.40%</text>
<text x="54.5" y="610.5" text-anchor="end" font-family="Liberation Sans, sans-serif" font-size="12" fill="#eb3a57">22684</text>
<text x="1158" y="610.5" font-family="Liberation Sans, sans-serif" font-size="12" letter-spacing="-0.4" fill="#eb3a57">-0.50%</text>
<text x="54.5" y="669.0" text-anchor="end" font-family="Liberation Sans, sans-serif" font-size="12" fill="#eb3a57">22661</text>
<text x="1158" y="669.0" font-family="Liberation Sans, sans-serif" font-size="12" letter-spacing="-0.4" fill="#eb3a57">-0.60%</text>
<text x="54.5" y="727.6" text-anchor="end" font-family="Liberation Sans, sans-serif" font-size="12" fill="#eb3a57">22638</text>
<text x="1158" y="727.6" font-family="Liberation Sans, sans-serif" font-size="12" letter-spacing="-0.4" fill="#eb3a57">-0.70%</text>
<text x="54.5" y="786.1" text-anchor="end" font-family="Liberation Sans, sans-serif" font-size="12" fill="#eb3a57">22616</text>
<text x="1158" y="786.1" font-family="Liberation Sans, sans-serif" font-size="12" letter-spacing="-0.4" fill="#eb3a57">-0.80%</text>
<text x="54.5" y="844.7" text-anchor="end" font-family="Liberation Sans, sans-serif" font-size="12" fill="#eb3a57">22593</text>
<text x="1158" y="844.7" font-family="Liberation Sans, sans-serif" font-size="12" letter-spacing="-0.4" fill="#eb3a57">-0.90%</text>
<text x="54.5" y="865.0" text-anchor="end" font-family="Liberation Sans, sans-serif" font-size="12" fill="#666b73">800.00</text>
<text x="1158" y="865.0" font-family="Liberation Sans, sans-serif" font-size="12" fill="#666b73">800.00</text>
<text x="54.5" y="920.4" text-anchor="end" font-family="Liberation Sans, sans-serif" font-size="12" fill="#666b73">400.00</text>
<text x="1158" y="920.4" font-family="Liberation Sans, sans-serif" font-size="12" fill="#666b73">400.00</text>
<rect x="16" y="371" width="44" height="18" fill="#eb3a57"/>
<text x="38" y="384.5" text-anchor="middle" font-family="Liberation Sans, sans-serif" font-size="12" fill="#fff">22772</text>
<rect x="1153" y="370.5" width="45" height="18" fill="#eb3a57"/>
<text x="1175.5" y="385" text-anchor="middle" font-family="Liberation Sans, sans-serif" font-size="12" letter-spacing="-0.4" fill="#fff">-0.11%</text>
<rect x="16" y="537" width="44" height="18" fill="#161616"/>
<text x="38" y="550.5" text-anchor="middle" font-family="Liberation Sans, sans-serif" font-size="12" fill="#fff">22707</text>
<rect x="1134" y="537" width="18" height="18" fill="#161616"/>
<path d="M1137.5,546 H1148.5 M1143,540.5 V551.5" stroke="#fff" stroke-width="1.2"/>
<rect x="1153" y="537" width="45" height="18" fill="#161616"/>
<text x="1175.5" y="551" text-anchor="middle" font-family="Liberation Sans, sans-serif" font-size="12" letter-spacing="-0.4" fill="#fff">-0.40%</text>
<text x="60" y="988.8" text-anchor="middle" font-family="Liberation Sans, sans-serif" font-size="12" fill="#666b73">04/03</text>
<text x="144.5" y="988.8" text-anchor="middle" font-family="Liberation Sans, sans-serif" font-size="12" fill="#666b73">18:30</text>
<text x="246.5" y="988.8" text-anchor="middle" font-family="Liberation Sans, sans-serif" font-size="12" fill="#666b73">20:00</text>
<text x="349.5" y="988.8" text-anchor="middle" font-family="Liberation Sans, sans-serif" font-size="12" fill="#666b73">21:30</text>
<text x="452.2" y="988.8" text-anchor="middle" font-family="Liberation Sans, sans-serif" font-size="12" fill="#666b73">23:00</text>
<text x="534.6" y="988.8" text-anchor="middle" font-family="Liberation Sans, sans-serif" font-size="12" fill="#666b73">04/04</text>
<text x="622.6" y="988.8" text-anchor="middle" font-family="Liberation Sans, sans-serif" font-size="12" fill="#666b73">01:30</text>
<text x="725.4" y="988.8" text-anchor="middle" font-family="Liberation Sans, sans-serif" font-size="12" fill="#666b73">03:00</text>
<text x="807.8" y="988.8" text-anchor="middle" font-family="Liberation Sans, sans-serif" font-size="12" fill="#666b73">04/07</text>
<text x="913.6" y="988.8" text-anchor="middle" font-family="Liberation Sans, sans-serif" font-size="12" fill="#666b73">12:00</text>
<text x="1016.3" y="988.8" text-anchor="middle" font-family="Liberation Sans, sans-serif" font-size="12" fill="#666b73">14:30</text>
<text x="1118.7" y="988.8" text-anchor="middle" font-family="Liberation Sans, sans-serif" font-size="12" fill="#666b73">16:00</text>
<text x="1151.7" y="988.8" text-anchor="middle" font-family="Liberation Sans, sans-serif" font-size="12" fill="#666b73">16:30</text>
<rect x="1048" y="973" width="75" height="18" fill="#161616"/>
<text x="1085.5" y="987" text-anchor="middle" font-family="Liberation Sans, sans-serif" font-size="12" fill="#fff">04/07 15:31</text>
<text x="76" y="868" font-family="Liberation Sans, sans-serif" font-size="12" fill="#222">成交量</text>
<text x="120.3" y="868" font-family="Liberation Sans, sans-serif" font-size="12" letter-spacing="-0.25" fill="#f2798b">VOL: 55.000</text>
</svg>
<svg class="a" style="left:14px;top:1006px" width="28" height="28" viewBox="0 0 1047 1047">
<circle cx="525" cy="522" r="450" fill="#ff6600"/>
<path d="M485,125 L350,165 L270,215 L225,290 L305,390 L265,500 L245,555 L0,555 L0,1047 L470,1047 L470,870 L560,870 L640,800 L700,700 L730,635 L820,665 L920,600 L940,400 L880,300 L860,340 L855,490 L770,490 L370,245 Z" fill="#fff"/>
<circle cx="450" cy="545" r="62" fill="#ff6600"/>
</svg>
<div class="a" style="left:45px;top:1009.5px;font-size:20px;color:#2b2b2b;-webkit-text-stroke:0.3px #2b2b2b;letter-spacing:0.5px;transform:scaleY(0.88);transform-origin:0 100%">富途牛牛</div>
<div class="a" style="right:16.5px;top:1015px;font-size:12px;color:#6b7079;letter-spacing:0.12px">2025/04/07 07:04:37</div>
</body></html>
